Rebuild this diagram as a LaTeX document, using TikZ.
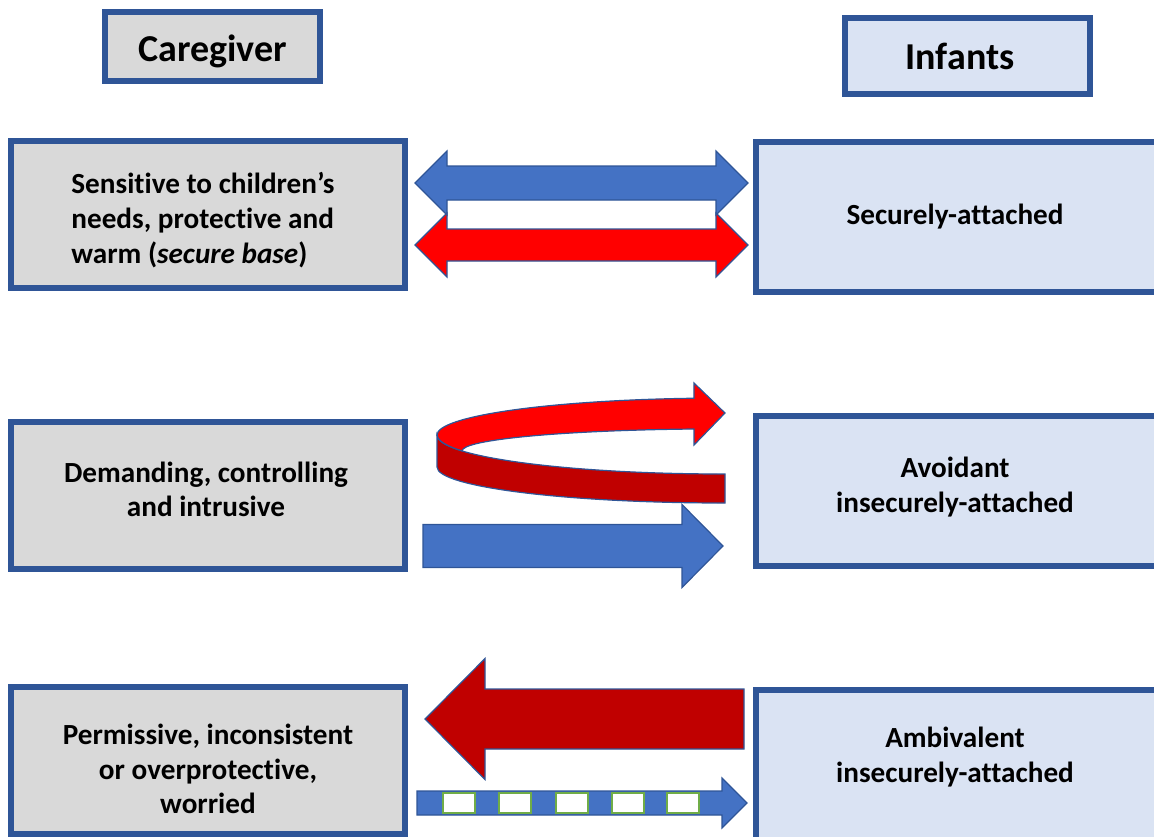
\documentclass[tikz,border=0pt]{standalone}
\usepackage{fontspec}
\setmainfont{Carlito}[Ligatures={TeX,NoCommon}]
\usepackage{tikz}
\definecolor{boxline}{HTML}{2F5597}
\definecolor{boxgray}{HTML}{D9D9D9}
\definecolor{boxblue}{HTML}{DAE3F3}
\definecolor{arrblue}{HTML}{4472C4}
\definecolor{arrred}{HTML}{FF0000}
\definecolor{arrdark}{HTML}{C00000}
\definecolor{arrgreen}{HTML}{70AD47}
\newcommand{\cgtext}{\fontsize{14.6}{17.3}\selectfont\bfseries}
\newcommand{\cghead}{\fontsize{19}{22}\selectfont\bfseries}
\newcommand{\mkarrow}[7]{% #1: fill, #2: x tail, #3: x tip, #4: y, #5: half shaft, #6: half head, #7: head length (signed)
	\filldraw[fill=#1,arrline] (#2,{#4-#5}) -- ({#3-(#7)},{#4-#5}) -- ({#3-(#7)},{#4-#6}) -- (#3,#4)
		-- ({#3-(#7)},{#4+#6}) -- ({#3-(#7)},{#4+#5}) -- (#2,{#4+#5}) -- cycle;
}
\newcommand{\mkdarrow}[6]{% #1: fill, #2: x left tip, #3: x right tip, #4: y, #5: half shaft, #6: half head
	\filldraw[fill=#1,arrline] (#2,#4) -- ({#2+#6},{#4-#6}) -- ({#2+#6},{#4-#5}) -- ({#3-#6},{#4-#5})
		-- ({#3-#6},{#4-#6}) -- (#3,#4) -- ({#3-#6},{#4+#6}) -- ({#3-#6},{#4+#5})
		-- ({#2+#6},{#4+#5}) -- ({#2+#6},{#4+#6}) -- cycle;
}

\begin{document}
\begin{tikzpicture}[x=0.5pt,y=-0.5pt,
		arrline/.style={draw=boxline,line width=0.6pt},
		cgbox/.style={draw=boxline,line width=3pt,fill=boxgray,minimum width=197pt,minimum height=73.5pt},
		infbox/.style={cgbox,fill=boxblue,minimum width=202.5pt,minimum height=75pt},
		headbox/.style={draw=boxline,line width=3pt},
		lbl/.style={font=\cgtext,align=center,inner sep=0pt},
		headlbl/.style={font=\cghead,inner sep=0pt}]
	% Fix the page
	\useasboundingbox (0,0) rectangle (1154,836);
	\clip (0,0) rectangle (1154,836);
	
	% Column heads
	\node[headbox,fill=boxgray,minimum width=107.5pt,minimum height=34.5pt] (care) at (212.5,46.5) {};
	\node[headbox,fill=boxblue,minimum width=122.5pt,minimum height=38pt] (inf) at (967.5,56) {};
	\node[headlbl] (care-t) at (212.5,51) {Caregiver};
	\node[headlbl] (inf-t) at (960,56) {Infants};
	
	% Caregiver boxes
	\node[cgbox] (sens) at (208,214) {};
	\node[cgbox] (demand) at (208,495.5) {};
	\node[cgbox] (permis) at (208,760) {};
	\node[lbl,align=left] (sens-t) at (203,220) {Sensitive to children’s\\needs, protective and\\warm (\textit{secure base})};
	\node[lbl] (demand-t) at (206,489.5) {Demanding, controlling\\and intrusive};
	\node[lbl] (permis-t) at (208,769) {Permissive, inconsistent\\or overprotective,\\worried};
	
	% Infant boxes
	\node[infbox] (secure) at (958.5,217) {};
	\node[infbox] (avoid) at (958.5,490.5) {};
	\node[infbox] (ambiv) at (958.5,764.5) {};
	\node[lbl] (secure-t) at (955,217) {Securely-attached};
	\node[lbl] (avoid-t) at (955,487) {Avoidant\\insecurely-attached};
	\node[lbl] (ambiv-t) at (955,757) {Ambivalent\\insecurely-attached};
	
	% Secure: both ways
	\mkdarrow{arrblue}{415}{748}{183}{17}{32}
	\mkdarrow{arrred}{415}{748}{245}{16}{32}
	
	% Avoidant: turning ribbon, front band then top face
	\filldraw[fill=arrdark,arrline] (437,435) -- (437,467)
		arc[start angle=180,end angle=90,x radius=288,y radius=36] -- (725,474)
		arc[start angle=90,end angle=180,x radius=288,y radius=39] -- cycle;
	\filldraw[fill=arrred,arrline] (437,435)
		arc[start angle=180,end angle=263.8,x radius=288,y radius=37]
		-- (694,383) -- (725,413) -- (694,445) -- (694,429)
		arc[start angle=263.2,end angle=180,x radius=263,y radius=22]
		arc[start angle=156,end angle=180,x radius=288,y radius=39] -- cycle;
	\mkarrow{arrblue}{423}{723}{546}{21.5}{41.5}{41}
	
	% Ambivalent
	\mkarrow{arrdark}{744}{425}{719}{30}{60.5}{-60}
	\mkarrow{arrblue}{417}{747}{803}{12}{25}{25}
	\foreach \x in {459,515,572,628,683}
		\draw[arrgreen,fill=white,line width=1pt] ({\x-16},793) rectangle ({\x+16},813);
	
\end{tikzpicture}
\end{document}
